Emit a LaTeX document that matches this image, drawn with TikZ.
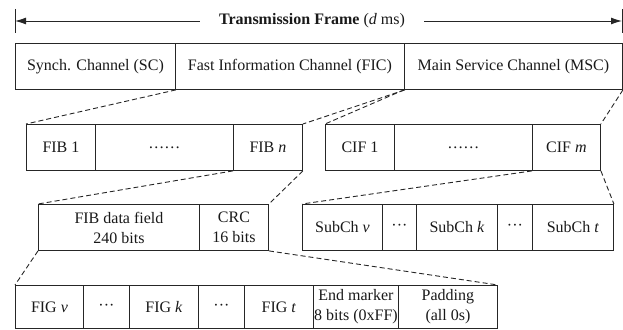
\documentclass[tikz,border=0pt]{standalone}
\usepackage{fontspec}
\setmainfont{Liberation Serif}
\usetikzlibrary{arrows.meta}
\begin{document}
\begin{tikzpicture}[x=1pt,y=-1pt,
  cell/.style={draw=black!85, line width=0.9pt, rectangle, inner sep=0pt,
    minimum height=46pt, anchor=north west, align=center, text=black!90,
    font=\fontsize{16}{20}\selectfont},
  link/.style={draw=black!85, line width=0.9pt, dash pattern=on 5pt off 3pt},
  frameline/.style={draw=black!85, line width=0.9pt},
  framearrow/.style={frameline, -{Latex[length=11pt,width=7pt]}},
]
\useasboundingbox (0,0) rectangle (623,329);

% title arrow
\node[inner xsep=19pt, inner ysep=0pt, text=black!90, font=\fontsize{16}{20}\selectfont]
  (title) at (312,21) {\textbf{Transmission Frame} (\textit{d} ms)};
\coordinate (tl) at (15,21);
\coordinate (tr) at (622,21);
\coordinate (tlt) at (15,9);
\coordinate (tlb) at (15,33);
\coordinate (trt) at (622,9);
\coordinate (trb) at (622,33);
\draw[framearrow] (title.west) -- (tl);
\draw[framearrow] (title.east) -- (tr);
\draw[frameline] (tlt) -- (tlb);
\draw[frameline] (trt) -- (trb);

% row 1
\node[cell, minimum width=160pt] (sc) at (15,43) {Synch. Channel (SC)};
\node[cell, minimum width=229pt] (fic) at (175,43) {Fast Information Channel (FIC)};
\node[cell, minimum width=218pt] (msc) at (404,43) {Main Service Channel (MSC)};

% row 2
\node[cell, minimum width=69pt] (fib1) at (26,124) {FIB 1};
\node[cell, minimum width=138pt] (fibd) at (95,124) {……};
\node[cell, minimum width=69pt] (fibn) at (233,124) {FIB \textit{n}};
\node[cell, minimum width=69pt] (cif1) at (325,124) {CIF 1};
\node[cell, minimum width=138pt] (cifd) at (394,124) {……};
\node[cell, minimum width=68pt] (cifm) at (532,124) {CIF \textit{m}};

% row 3
\node[cell, minimum width=161pt] (fibdata) at (38,204) {FIB data field\\240 bits};
\node[cell, minimum width=69pt] (crc) at (199,204) {CRC\\16 bits};
\node[cell, minimum width=80pt] (subv) at (302,204) {SubCh \textit{v}};
\node[cell, minimum width=34pt] (sd1) at (382,204) {···};
\node[cell, minimum width=81pt] (subk) at (416,204) {SubCh \textit{k}};
\node[cell, minimum width=35pt] (sd2) at (497,204) {···};
\node[cell, minimum width=81pt] (subt) at (532,204) {SubCh \textit{t}};

% row 4
\node[cell, minimum height=43pt, minimum width=68pt] (figv) at (15,285) {FIG \textit{v}};
\node[cell, minimum height=43pt, minimum width=46pt] (fd1) at (83,285) {···};
\node[cell, minimum height=43pt, minimum width=69pt] (figk) at (129,285) {FIG \textit{k}};
\node[cell, minimum height=43pt, minimum width=46pt] (fd2) at (198,285) {···};
\node[cell, minimum height=43pt, minimum width=69pt] (figt) at (244,285) {FIG \textit{t}};
\node[cell, minimum height=43pt, minimum width=85pt] (endm) at (313,285) {End marker\\8 bits (0xFF)};
\node[cell, minimum height=43pt, minimum width=99pt] (pad) at (398,285) {Padding\\(all 0s)};

% dashed expansion lines
\draw[link] (sc.south east) -- (fib1.north west);
\draw[link] (fic.south east) -- (fibn.north east);
\draw[link] (msc.south west) -- (cif1.north west);
\draw[link] (msc.south east) -- (cifm.north east);
\draw[link] (fibn.south west) -- (fibdata.north west);
\draw[link] (fibn.south east) -- (crc.north east);
\draw[link] (cifm.south west) -- (subv.north west);
\draw[link] (cifm.south east) -- (subt.north east);
\draw[link] (fibdata.south west) -- (figv.north west);
\draw[link] (crc.south east) -- (pad.north east);
\end{tikzpicture}
\end{document}
